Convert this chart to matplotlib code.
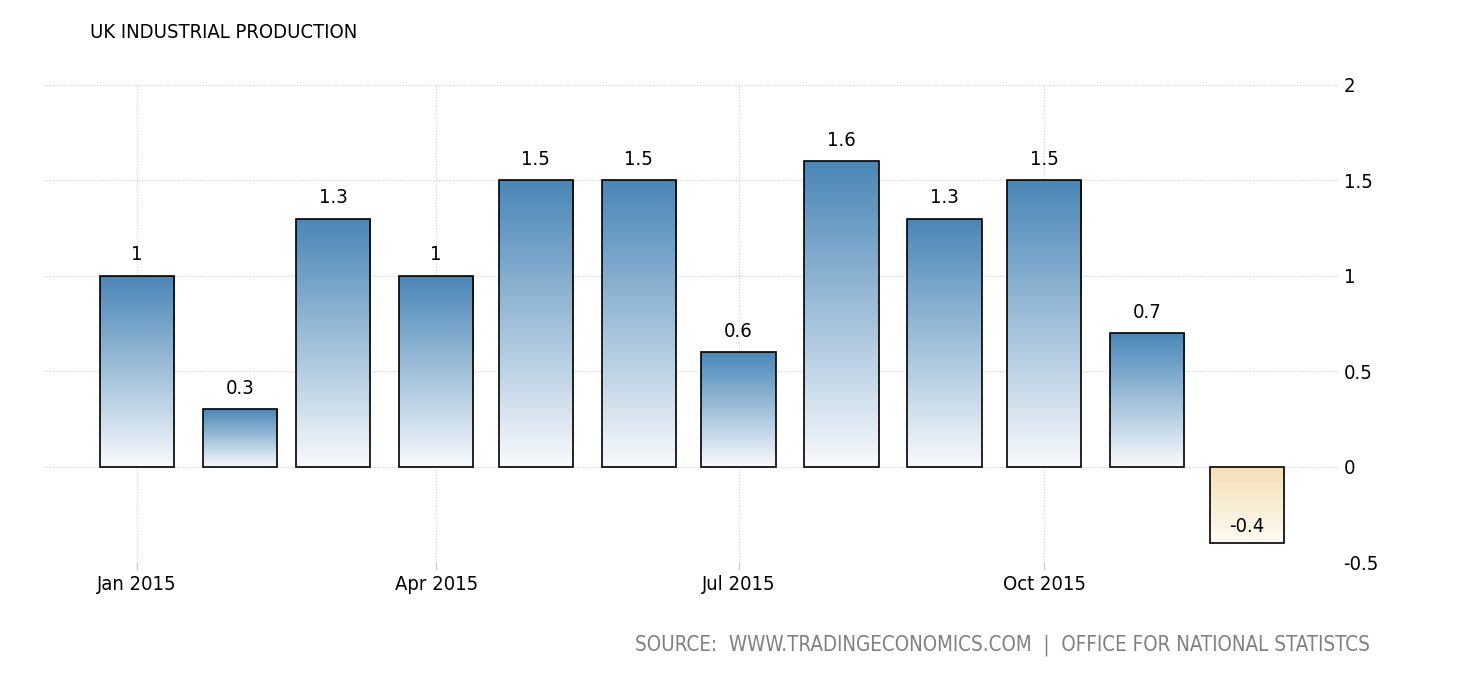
import numpy as np
import matplotlib
matplotlib.use("Agg")
import matplotlib.pyplot as plt
import matplotlib.dates as mdates
from matplotlib.patches import Rectangle
from matplotlib.colors import LinearSegmentedColormap
from datetime import datetime, timedelta

# ---------------------------------------------------
# Data
# ---------------------------------------------------

months = [datetime(2015, m, 1) for m in range(1, 13)]
values = [1.0, 0.3, 1.3, 1.0, 1.5, 1.5, 0.6, 1.6, 1.3, 1.5, 0.7, -0.4]
value_labels = ["1", "0.3", "1.3", "1", "1.5", "1.5", "0.6", "1.6", "1.3", "1.5", "0.7", "-0.4"]
tick_months = [datetime(2015, 1, 1), datetime(2015, 4, 1), datetime(2015, 7, 1), datetime(2015, 10, 1)]
y_ticks = [-0.5, 0, 0.5, 1, 1.5, 2]
y_tick_labels = ["-0.5", "0", "0.5", "1", "1.5", "2"]

TITLE = "UK INDUSTRIAL PRODUCTION"
SOURCE = "SOURCE:  WWW.TRADINGECONOMICS.COM  |  OFFICE FOR NATIONAL STATISTCS"

plt.rcParams["font.family"] = ["DejaVu Sans"]
plt.rcParams["font.stretch"] = "condensed"

blue_cmap = LinearSegmentedColormap.from_list("blue", ["#f8fafd", "#4a86b7"])
tan_cmap = LinearSegmentedColormap.from_list("tan", ["#fffbf3", "#f5dfb6"])

W, H = 1460, 680
fig = plt.figure(figsize=(W / 100, H / 100), dpi=100)
ax = fig.add_axes([44 / W, 1 - 562 / H, (1338 - 44) / W, (562 - 85) / H])

x_left = mdates.date2num(months[0] - timedelta(days=28))
x_right = mdates.date2num(months[-1] + timedelta(days=27.4))

bar_width = 22.3
grad = np.linspace(0, 1, 256).reshape(-1, 1)

for month, value in zip(months, values):
    x0 = mdates.date2num(month) - bar_width / 2
    if value >= 0:
        img = ax.imshow(grad, cmap=blue_cmap, aspect="auto", origin="lower",
                        extent=[x0, x0 + bar_width, 0, value], zorder=2)
    else:
        img = ax.imshow(grad, cmap=tan_cmap, aspect="auto", origin="lower",
                        extent=[x0, x0 + bar_width, value, 0], zorder=2)
    rect = Rectangle((x0, 0), bar_width, value, facecolor="none",
                     edgecolor="black", linewidth=1.2, zorder=3)
    ax.add_patch(rect)
    img.set_clip_path(rect)

# value labels
for month, value, label in zip(months, values, value_labels):
    xc = mdates.date2num(month)
    if value >= 0:
        ax.annotate(label, (xc, value), xytext=(0, 15), textcoords="offset points",
                    ha="center", va="center", fontsize=14.5)
    else:
        ax.annotate(label, (xc, value), xytext=(0, 11.5), textcoords="offset points",
                    ha="center", va="center", fontsize=14.5)

ax.set_xlim(x_left, x_right)
ax.set_ylim(-0.5, 2)

ax.set_xticks([mdates.date2num(d) for d in tick_months])
ax.set_xticklabels([d.strftime("%b %Y") for d in tick_months], fontsize=14.5)
ax.set_yticks(y_ticks)
ax.set_yticklabels(y_tick_labels, fontsize=14.5)
ax.yaxis.tick_right()
ax.tick_params(axis="y", length=0, pad=4)
ax.tick_params(axis="x", length=6, color="#cccccc", width=1, pad=3)

ax.grid(True, color="#cfcfcf", linestyle=(0, (1, 1.5)), linewidth=0.8, zorder=0)
ax.set_axisbelow(True)
for spine in ax.spines.values():
    spine.set_visible(False)

fig.text(90 / W, 1 - 33 / H, TITLE, fontsize=14.5, va="center", ha="left")
fig.text(1370 / W, 1 - 645 / H, SOURCE, fontsize=14.8, va="center", ha="right", color="#808080")

fig.savefig("out.png", dpi=100)
